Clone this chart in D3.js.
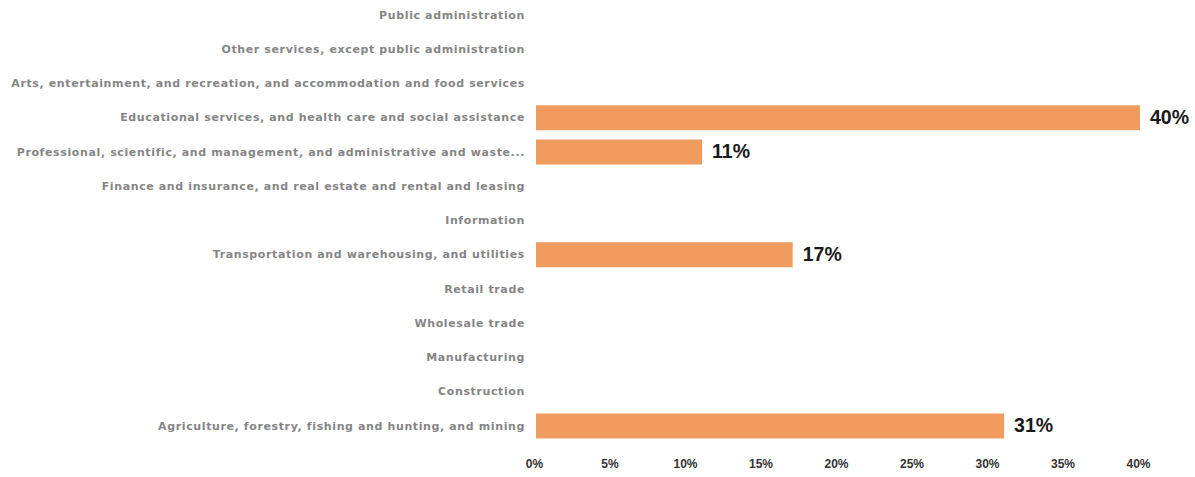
<!DOCTYPE html>
<html>
<head>
<meta charset="utf-8">
<script src="https://cdn.jsdelivr.net/npm/d3@7"></script>
<style>
  html, body { margin: 0; padding: 0; background: #ffffff; }
  svg { display: block; }
</style>
</head>
<body>
<svg id="chart" width="1195" height="477"></svg>
<script>
// Industry categories, listed top to bottom
const categories = [
  "Public administration",
  "Other services, except public administration",
  "Arts, entertainment, and recreation, and accommodation and food services",
  "Educational services, and health care and social assistance",
  "Professional, scientific, and management, and administrative and waste...",
  "Finance and insurance, and real estate and rental and leasing",
  "Information",
  "Transportation and warehousing, and utilities",
  "Retail trade",
  "Wholesale trade",
  "Manufacturing",
  "Construction",
  "Agriculture, forestry, fishing and hunting,  and mining"
];
// Share of respondents per industry (percent); null = no bar
const shares = [null, null, null, 40, 11, null, null, 17, null, null, null, null, 31];
const tickValues = [0, 5, 10, 15, 20, 25, 30, 35, 40];

const svg = d3.select("#chart");
const width = 1195, height = 477;
const plot = { left: 536, right: 1140, top: -2.1, bottom: 443.1 };

const x = d3.scaleLinear().domain([0, 40]).range([plot.left, plot.right]);
const y = d3.scaleBand().domain(categories)
  .range([plot.top, plot.bottom]).paddingInner(0.27).paddingOuter(0.135);

const data = categories.map((c, i) => ({ cat: c, v: shares[i] }));

// Bars
svg.append("g").selectAll("rect")
  .data(data.filter(d => d.v != null))
  .join("rect")
  .attr("x", x(0))
  .attr("y", d => y(d.cat))
  .attr("width", d => x(d.v) - x(0))
  .attr("height", y.bandwidth())
  .attr("fill", "#EF9C5E");

// Value labels
svg.append("g").selectAll("text")
  .data(data.filter(d => d.v != null))
  .join("text")
  .attr("x", d => x(d.v) + 10)
  .attr("y", d => y(d.cat) + y.bandwidth() / 2)
  .attr("dy", "0.33em")
  .attr("font-family", "Liberation Sans, Arial, sans-serif")
  .attr("font-weight", "bold")
  .attr("font-size", 19.5)
  .attr("fill", "#1a1a1a")
  .text(d => d.v + "%");

// Category axis
const yAxis = svg.append("g")
  .attr("transform", `translate(${plot.left - 11},0)`)
  .call(d3.axisLeft(y).tickSize(0).tickPadding(0));
yAxis.select(".domain").remove();
yAxis.selectAll("text")
  .attr("font-family", "DejaVu Sans, sans-serif")
  .attr("font-weight", "bold")
  .attr("font-size", 11)
  .attr("letter-spacing", "0.62px")
  .attr("fill", "#858585");

// Value axis
const xAxis = svg.append("g")
  .attr("transform", `translate(0,468)`)
  .call(d3.axisBottom(x).tickValues(tickValues).tickSize(0).tickPadding(0)
    .tickFormat(d => d + "%"));
xAxis.select(".domain").remove();
xAxis.selectAll("text")
  .attr("font-family", "Liberation Sans, Arial, sans-serif")
  .attr("font-weight", "bold")
  .attr("font-size", 12)
  .attr("dy", "0")
  .attr("dx", "-2")
  .attr("fill", "#333333");
</script>
</body>
</html>
